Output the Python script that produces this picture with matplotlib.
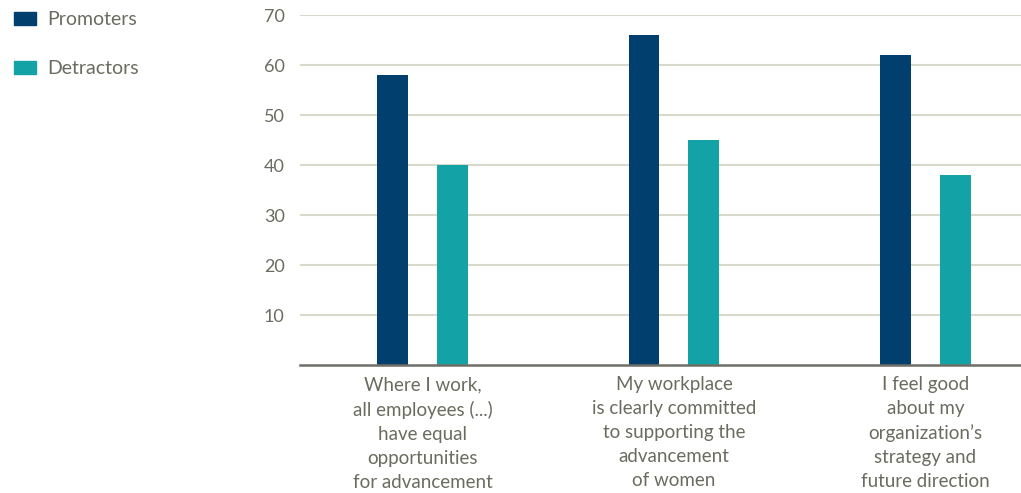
import numpy as np
import matplotlib.pyplot as plt
from matplotlib.patches import Patch

plt.rcParams['font.family'] = ['Lato', 'DejaVu Sans']

categories = ["Where I work,\nall employees (...)\nhave equal\nopportunities\nfor advancement",
              "My workplace\nis clearly committed\nto supporting the\nadvancement\nof women",
              "I feel good\nabout my\norganization\u2019s\nstrategy and\nfuture direction"]
promoters = [58, 66, 62]
detractors = [40, 45, 38]
yticks = [10, 20, 30, 40, 50, 60, 70]

dark = '#013f6f'
teal = '#13a3a6'
text_col = '#6b6b60'
grid_col = '#d9d9cb'

fig = plt.figure(figsize=(10.21, 4.93), dpi=100)
ax = fig.add_axes([300 / 1021, 1 - 365 / 493, 721 / 1021, 350 / 493])

x = np.arange(len(categories))
w = 0.123
off = 0.119
ax.bar(x - off, promoters, width=w, color=dark, zorder=3)
ax.bar(x + off, detractors, width=w, color=teal, zorder=3)

ax.set_xlim(-0.487, 2.38)
ax.set_ylim(0, 70)
ax.set_yticks(yticks)
ax.set_yticklabels([str(t) for t in yticks], color=text_col, fontsize=13)
ax.yaxis.grid(True, color=grid_col, linewidth=1.5, zorder=0)
ax.tick_params(axis='y', length=0, pad=11)
ax.tick_params(axis='x', length=0, pad=8)
ax.set_xticks(x)
ax.set_xticklabels(categories, color=text_col, fontsize=13.5, linespacing=1.5)

for s in ['top', 'right', 'left']:
    ax.spines[s].set_visible(False)
ax.spines['bottom'].set_color('#6e6e66')
ax.spines['bottom'].set_linewidth(1.8)
ax.spines['bottom'].set_zorder(4)

handles = [Patch(color=dark, label='Promoters'), Patch(color=teal, label='Detractors')]
leg = fig.legend(handles=handles, loc='upper left', bbox_to_anchor=(14 / 1021, 1 - 11 / 493),
                 frameon=False, fontsize=14, handlelength=1.13, handleheight=0.67,
                 labelspacing=1.65, handletextpad=0.57, borderpad=0, borderaxespad=0)
for t in leg.get_texts():
    t.set_color(text_col)

plt.savefig('out.png', dpi=100)
